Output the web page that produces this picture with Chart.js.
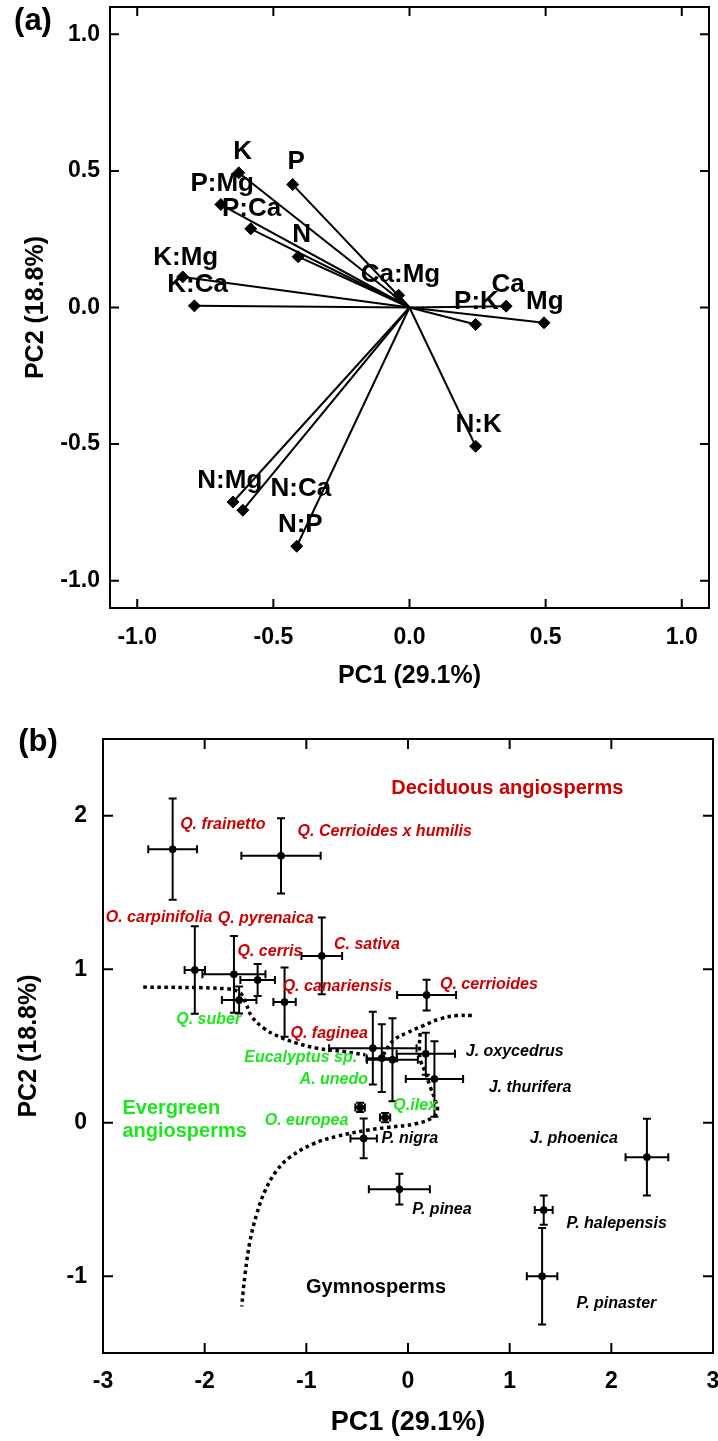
<!DOCTYPE html>
<html>
<head>
<meta charset="utf-8">
<script src="https://cdn.jsdelivr.net/npm/chart.js@4.4.1/dist/chart.umd.min.js"></script>
<style>
  html, body { margin: 0; padding: 0; background: #fff; }
  #wrap { position: relative; width: 718px; height: 1441px; }
  canvas { position: absolute; left: 0; }
  #chartA { top: 0; }
  #chartB { top: 720px; }
</style>
</head>
<body>
<div id="wrap">
  <canvas id="chartA" width="718" height="720"></canvas>
  <canvas id="chartB" width="718" height="721"></canvas>
</div>
<script>
// ---------- panel (a): variable loadings ----------
const varNames = ['K', 'P', 'P:Mg', 'P:Ca', 'N', 'K:Mg', 'K:Ca', 'Ca:Mg', 'Ca', 'P:K', 'Mg', 'N:K', 'N:Mg', 'N:Ca', 'N:P'];
const loadPC1 = [-0.627, -0.429, -0.693, -0.583, -0.409, -0.833, -0.79, -0.04, 0.355, 0.243, 0.494, 0.243, -0.648, -0.612, -0.414];
const loadPC2 = [0.493, 0.45, 0.377, 0.288, 0.186, 0.112, 0.006, 0.045, 0.005, -0.062, -0.056, -0.508, -0.712, -0.742, -0.874];
// where each name is written (text centre, data units)
const varLabelX = [-0.613, -0.416, -0.688, -0.58, -0.396, -0.822, -0.778, -0.033, 0.362, 0.246, 0.497, 0.254, -0.66, -0.399, -0.401];
const varLabelY = [0.57, 0.534, 0.454, 0.363, 0.265, 0.18, 0.082, 0.118, 0.082, 0.021, 0.021, -0.431, -0.633, -0.663, -0.794];
const ticksA = [-1.0, -0.5, 0.0, 0.5, 1.0];

// ---------- panel (b): species scores ----------
const species = ['Q. frainetto', 'Q. Cerrioides x humilis', 'O. carpinifolia', 'Q. pyrenaica', 'Q. cerris',
  'C. sativa', 'Q. canariensis', 'Q. cerrioides', 'Q. suber', 'Q. faginea', 'Eucalyptus sp.', 'A. unedo',
  'J. oxycedrus', 'J. thurifera', 'Q.ilex', 'O. europea', 'P. nigra', 'P. pinea', 'J. phoenica',
  'P. halepensis', 'P. pinaster'];
const group = ['d', 'd', 'd', 'd', 'd', 'd', 'd', 'd', 'e', 'd', 'e', 'e', 'g', 'g', 'e', 'e', 'g', 'g', 'g', 'g', 'g'];
const pc1 = [-2.315, -1.249, -2.097, -1.712, -1.479, -0.848, -1.214, 0.183, -1.661, -0.346, -0.258, -0.153,
  0.175, 0.26, -0.225, -0.471, -0.436, -0.085, 2.35, 1.335, 1.319];
const pc2 = [1.782, 1.739, 0.995, 0.967, 0.93, 1.087, 0.786, 0.832, 0.799, 0.486, 0.421, 0.41,
  0.449, 0.285, 0.034, 0.1, -0.102, -0.433, -0.224, -0.569, -1.0];
const pc1Err = [0.24, 0.39, 0.1, 0.31, 0.17, 0.2, 0.11, 0.29, 0.17, 0.43, 0.15, 0.25,
  0.287, 0.282, 0.05, 0.047, 0.13, 0.3, 0.21, 0.088, 0.15];
const pc2Err = [0.33, 0.245, 0.285, 0.25, 0.105, 0.25, 0.226, 0.1, 0.088, 0.237, 0.22, 0.27,
  0.137, 0.246, 0.03, 0.03, 0.13, 0.1, 0.25, 0.095, 0.315];
// where each species name starts (left end, data units)
const spLabelX = [-2.241, -1.086, -2.973, -1.872, -1.677, -0.728, -1.233, 0.315, -2.28, -1.156, -1.611, -1.066,
  0.568, 0.794, -0.144, -1.409, -0.261, 0.043, 1.198, 1.56, 1.658];
const spLabelY = [1.94, 1.9, 1.335, 1.33, 1.113, 1.159, 0.886, 0.9, 0.672, 0.58, 0.427, 0.279,
  0.464, 0.228, 0.115, 0.016, -0.104, -0.563, -0.104, -0.657, -1.18];
const ticksBx = [-3, -2, -1, 0, 1, 2, 3];
const ticksBy = [-1, 0, 1, 2];

// dotted group boundaries
const curveAx = [-2.604, -1.784, -1.653, -1.603, -1.538, -1.423, -1.276, -1.095, -0.898, -0.636, -0.42];
const curveAy = [0.884, 0.873, 0.847, 0.792, 0.694, 0.618, 0.563, 0.519, 0.486, 0.464, 0.443];
const curveBx = [0.628, 0.48, 0.316, 0.152, -0.012, -0.127, -0.193, -0.242];
const curveBy = [0.698, 0.698, 0.677, 0.633, 0.585, 0.546, 0.497, 0.443];
const curveCx = [0.119, 0.112, 0.126, 0.168, 0.218, 0.267, 0.29, 0.25, 0.087, -0.209, -0.406, -0.701,
  -0.931, -1.16, -1.291, -1.406, -1.488, -1.554, -1.603, -1.636];
const curveCy = [0.585, 0.475, 0.399, 0.333, 0.235, 0.148, 0.082, 0.038, -0.005, -0.031, -0.049, -0.089,
  -0.137, -0.224, -0.311, -0.443, -0.596, -0.771, -0.989, -1.197];

const FONT = "'Liberation Sans', Arial, sans-serif";
const RED = '#cc0000';
const GREEN = '#1ee61e';
const groupColor = { d: RED, e: GREEN, g: '#000' };

// frame with inward tick marks on all four sides
const framePlugin = {
  id: 'frame',
  afterDraw(chart, args, opts) {
    const { ctx, chartArea: a, scales: { x, y } } = chart;
    ctx.save();
    ctx.strokeStyle = '#000';
    ctx.lineWidth = 2;
    ctx.strokeRect(a.left, a.top, a.right - a.left, a.bottom - a.top);
    ctx.beginPath();
    x.ticks.forEach(t => {
      const px = x.getPixelForValue(t.value);
      ctx.moveTo(px, a.bottom); ctx.lineTo(px, a.bottom - opts.len);
      ctx.moveTo(px, a.top); ctx.lineTo(px, a.top + opts.len);
    });
    y.ticks.forEach(t => {
      const py = y.getPixelForValue(t.value);
      ctx.moveTo(a.left, py); ctx.lineTo(a.left + opts.len, py);
      ctx.moveTo(a.right, py); ctx.lineTo(a.right - opts.len, py);
    });
    ctx.stroke();
    // panel letter
    ctx.fillStyle = '#000';
    ctx.font = 'bold 31px ' + FONT;
    ctx.textAlign = 'center';
    ctx.textBaseline = 'middle';
    ctx.fillText(opts.letter, opts.letterX, opts.letterY);
    ctx.restore();
  }
};

function axisFont(size) {
  return { family: FONT, size: size, weight: 'bold', lineHeight: 1.2 };
}

// keep the plot box where the figure has it: no extra room for edge labels
function fixSize(w, h) {
  return s => {
    if (w) s.width = w;
    if (h) s.height = h;
    s.paddingTop = 0; s.paddingBottom = 0; s.paddingLeft = 0; s.paddingRight = 0;
  };
}

// ---------- chart (a) ----------
const loadSets = varNames.map((name, i) => ({
  label: name,
  data: [{ x: 0, y: 0 }, { x: loadPC1[i], y: loadPC2[i] }],
  showLine: true,
  borderColor: '#000',
  borderWidth: 2,
  pointStyle: 'rectRot',
  pointRadius: [0, 6],
  pointBorderWidth: 1,
  pointBackgroundColor: '#000',
  pointBorderColor: '#000'
}));

const labelsA = {
  id: 'labelsA',
  afterDatasetsDraw(chart) {
    const { ctx, scales: { x, y } } = chart;
    ctx.save();
    ctx.fillStyle = '#000';
    ctx.font = 'bold 26px ' + FONT;
    ctx.textAlign = 'center';
    ctx.textBaseline = 'middle';
    varNames.forEach((n, i) => {
      ctx.fillText(n, x.getPixelForValue(varLabelX[i]), y.getPixelForValue(varLabelY[i]));
    });
    ctx.restore();
  }
};

new Chart(document.getElementById('chartA'), {
  type: 'scatter',
  data: { datasets: loadSets },
  options: {
    responsive: false,
    animation: false,
    layout: { padding: { top: 7, right: 9, left: 0, bottom: 0 } },
    plugins: {
      legend: { display: false },
      tooltip: { enabled: false },
      frame: { len: 9, letter: '(a)', letterX: 33, letterY: 21 }
    },
    scales: {
      x: {
        min: -1.1, max: 1.1,
        afterBuildTicks: s => { s.ticks = ticksA.map(v => ({ value: v })); },
        afterFit: fixSize(0, 112),
        grid: { display: false, drawTicks: false },
        border: { display: false },
        ticks: { color: '#000', font: axisFont(23), padding: 16, maxRotation: 0,
          callback: v => Number(v).toFixed(1) },
        title: { display: true, text: 'PC1 (29.1%)', color: '#000', font: axisFont(25),
          padding: { top: 0, bottom: 29 } }
      },
      y: {
        min: -1.1, max: 1.1,
        afterBuildTicks: s => { s.ticks = ticksA.map(v => ({ value: v })); },
        afterFit: fixSize(110, 0),
        grid: { display: false, drawTicks: false },
        border: { display: false },
        ticks: { color: '#000', font: axisFont(23), padding: 10,
          callback: v => Number(v).toFixed(1) },
        title: { display: true, text: 'PC2 (18.8%)', color: '#000', font: axisFont(25),
          padding: { top: 21, bottom: 0 } }
      }
    }
  },
  plugins: [framePlugin, labelsA]
});

// ---------- chart (b) ----------
const errorBars = {
  id: 'errorBars',
  afterDatasetsDraw(chart) {
    const { ctx, scales: { x, y } } = chart;
    const cap = 4;
    ctx.save();
    ctx.strokeStyle = '#000';
    ctx.lineWidth = 2;
    ctx.beginPath();
    pc1.forEach((v, i) => {
      const px = x.getPixelForValue(v), py = y.getPixelForValue(pc2[i]);
      const x0 = x.getPixelForValue(v - pc1Err[i]), x1 = x.getPixelForValue(v + pc1Err[i]);
      const y0 = y.getPixelForValue(pc2[i] + pc2Err[i]), y1 = y.getPixelForValue(pc2[i] - pc2Err[i]);
      ctx.moveTo(x0, py); ctx.lineTo(x1, py);
      ctx.moveTo(x0, py - cap); ctx.lineTo(x0, py + cap);
      ctx.moveTo(x1, py - cap); ctx.lineTo(x1, py + cap);
      ctx.moveTo(px, y0); ctx.lineTo(px, y1);
      ctx.moveTo(px - cap, y0); ctx.lineTo(px + cap, y0);
      ctx.moveTo(px - cap, y1); ctx.lineTo(px + cap, y1);
    });
    ctx.stroke();

    ctx.font = 'italic bold 16px ' + FONT;
    ctx.textAlign = 'left';
    ctx.textBaseline = 'middle';
    species.forEach((n, i) => {
      ctx.fillStyle = groupColor[group[i]];
      ctx.fillText(n, x.getPixelForValue(spLabelX[i]), y.getPixelForValue(spLabelY[i]));
    });

    ctx.font = 'bold 20px ' + FONT;
    ctx.fillStyle = RED;
    ctx.textAlign = 'center';
    ctx.fillText('Deciduous angiosperms', x.getPixelForValue(0.977), y.getPixelForValue(2.176));
    ctx.fillStyle = '#000';
    ctx.fillText('Gymnosperms', x.getPixelForValue(-0.315), y.getPixelForValue(-1.07));
    ctx.fillStyle = GREEN;
    ctx.textAlign = 'left';
    ctx.fillText('Evergreen', x.getPixelForValue(-2.809), y.getPixelForValue(0.093));
    ctx.fillText('angiosperms', x.getPixelForValue(-2.809), y.getPixelForValue(-0.06));
    ctx.restore();
  }
};

function curve(xs, ys) {
  return {
    data: xs.map((v, i) => ({ x: v, y: ys[i] })),
    showLine: true,
    tension: 0.4,
    borderColor: '#000',
    borderWidth: 3.5,
    borderDash: [3.5, 3.5],
    pointRadius: 0
  };
}

new Chart(document.getElementById('chartB'), {
  type: 'scatter',
  data: {
    datasets: [
      curve(curveAx, curveAy),
      curve(curveBx, curveBy),
      curve(curveCx, curveCy),
      {
        data: pc1.map((v, i) => ({ x: v, y: pc2[i] })),
        pointRadius: 3.5,
        pointBackgroundColor: '#000',
        pointBorderColor: '#000'
      }
    ]
  },
  options: {
    responsive: false,
    animation: false,
    layout: { padding: { top: 19, right: 5, left: 0, bottom: 0 } },
    plugins: {
      legend: { display: false },
      tooltip: { enabled: false },
      frame: { len: 10, letter: '(b)', letterX: 38, letterY: 22 }
    },
    scales: {
      x: {
        min: -3, max: 3,
        afterBuildTicks: s => { s.ticks = ticksBx.map(v => ({ value: v })); },
        afterFit: fixSize(0, 88),
        grid: { display: false, drawTicks: false },
        border: { display: false },
        ticks: { color: '#000', font: axisFont(23), padding: 15, maxRotation: 0 },
        title: { display: true, text: 'PC1 (29.1%)', color: '#000', font: axisFont(27),
          padding: { top: 0, bottom: 2 } }
      },
      y: {
        min: -1.5, max: 2.5,
        afterBuildTicks: s => { s.ticks = ticksBy.map(v => ({ value: v })); },
        afterFit: fixSize(103, 0),
        grid: { display: false, drawTicks: false },
        border: { display: false },
        ticks: { color: '#000', font: axisFont(23), padding: 16 },
        title: { display: true, text: 'PC2 (18.8%)', color: '#000', font: axisFont(25),
          padding: { top: 14, bottom: 0 } }
      }
    }
  },
  plugins: [framePlugin, errorBars]
});
</script>
</body>
</html>
